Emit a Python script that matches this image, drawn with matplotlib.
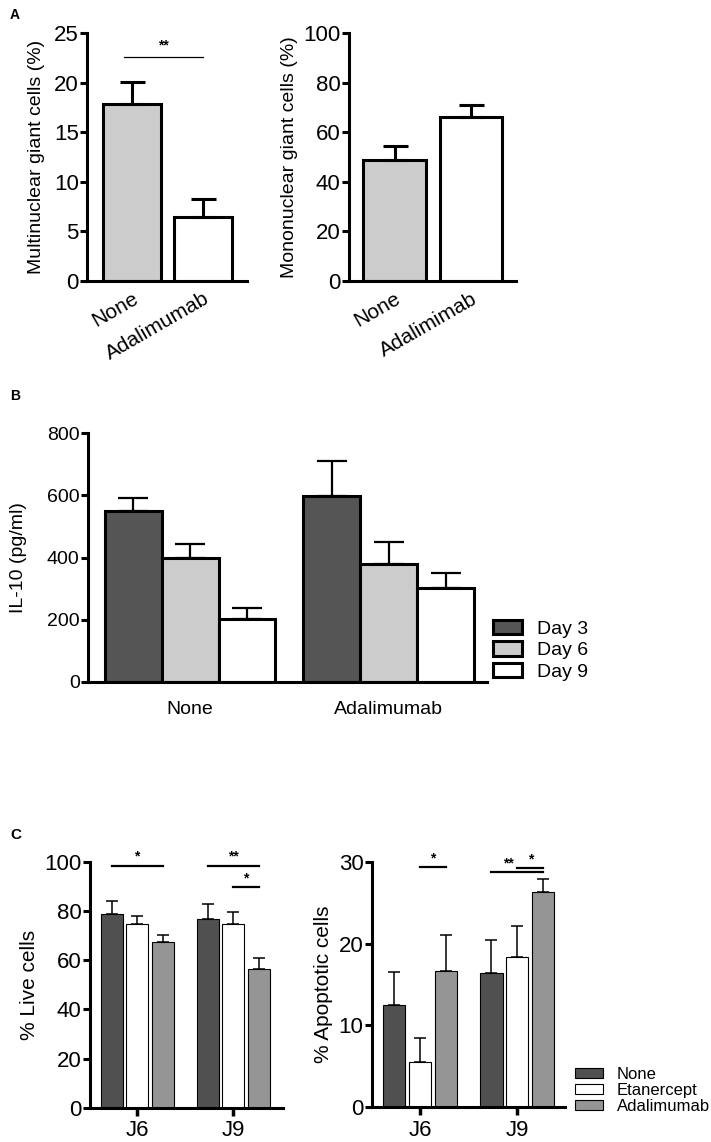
import numpy as np
import matplotlib
matplotlib.use("Agg")
import matplotlib.pyplot as plt

plt.rcParams['font.family'] = ['Liberation Sans', 'DejaVu Sans']

# ---- data ----
# panel A
a_groups = ['None', 'Adalimumab']
a_groups_right = ['None', 'Adalimimab']
multi_vals = [17.8, 6.5]
multi_err = [2.3, 1.75]
mono_vals = [48.8, 66.1]
mono_err = [5.6, 4.9]
a_colors = ['#cccccc', 'white']

# panel B
b_groups = ['None', 'Adalimumab']
b_days = ['Day 3', 'Day 6', 'Day 9']
il10_day3 = [550, 598]
il10_day3_err = [40, 113]
il10_day6 = [399, 380]
il10_day6_err = [44, 69]
il10_day9 = [201, 303]
il10_day9_err = [37, 48]
b_colors = ['#555555', '#cccccc', 'white']

# panel C
c_groups = ['J6', 'J9']
c_treat = ['None', 'Etanercept', 'Adalimumab']
live_none = [78.6, 76.7]
live_none_err = [5.5, 6.2]
live_etan = [74.8, 74.9]
live_etan_err = [3.0, 4.5]
live_adal = [67.4, 56.5]
live_adal_err = [2.9, 4.3]
apo_none = [12.5, 16.4]
apo_none_err = [4.0, 4.0]
apo_etan = [5.5, 18.3]
apo_etan_err = [3.0, 3.9]
apo_adal = [16.7, 26.3]
apo_adal_err = [4.4, 1.6]
c_colors = ['#505050', 'white', '#959595']

W, H = 711, 1142
fig = plt.figure(figsize=(W / 100, H / 100), dpi=100)


def rect(left, right, top, bottom):
    # pixel box -> figure fraction
    return [left / W, 1 - bottom / H, (right - left) / W, (bottom - top) / H]


def style_axes(ax, lw, ticksize):
    ax.spines['top'].set_visible(False)
    ax.spines['right'].set_visible(False)
    ax.spines['left'].set_linewidth(lw)
    ax.spines['bottom'].set_linewidth(lw)
    ax.tick_params(axis='y', direction='out', length=5, width=lw, labelsize=ticksize, pad=1)
    ax.tick_params(axis='x', length=0, labelsize=ticksize)


def up_err(ax, x, y, e, lw, cap):
    ax.errorbar(x, y, yerr=[np.zeros(len(e)), e], fmt='none', ecolor='black',
                elinewidth=lw, capsize=cap, capthick=lw, zorder=3)


# ---- panel A left ----
ax1 = fig.add_axes(rect(87, 247, 33, 281))
xa = np.arange(len(a_groups))
ax1.bar(xa, multi_vals, width=0.83, color=a_colors, edgecolor='black', linewidth=2.2)
up_err(ax1, xa, multi_vals, multi_err, 2.2, 9)
ax1.set_xlim(-0.634, 1.62)
ax1.set_ylim(0, 25)
ax1.set_yticks([0, 5, 10, 15, 20, 25])
style_axes(ax1, 2.2, 16)
ax1.set_xticks(xa)
ax1.set_xticklabels(a_groups, rotation=30, ha='right', rotation_mode='anchor', fontsize=15)
ax1.tick_params(axis='x', pad=6)
ax1.set_ylabel('Multinuclear giant cells (%)', fontsize=14, labelpad=6)
ax1.plot([-0.11, 1.0], [22.6, 22.6], color='black', lw=0.9)
ax1.text(0.44, 23.0, '**', ha='center', va='bottom', fontsize=10, fontweight='bold')

# ---- panel A right ----
ax2 = fig.add_axes(rect(349, 516, 33, 281))
ax2.bar(xa, mono_vals, width=0.82, color=a_colors, edgecolor='black', linewidth=2.2)
up_err(ax2, xa, mono_vals, mono_err, 2.2, 9)
ax2.set_xlim(-0.595, 1.588)
ax2.set_ylim(0, 100)
ax2.set_yticks([0, 20, 40, 60, 80, 100])
style_axes(ax2, 2.2, 16)
ax2.set_xticks(xa)
ax2.set_xticklabels(a_groups_right, rotation=30, ha='right', rotation_mode='anchor', fontsize=15)
ax2.tick_params(axis='x', pad=6)
ax2.set_ylabel('Mononuclear giant cells (%)', fontsize=14, labelpad=4)

# ---- panel B ----
ax3 = fig.add_axes(rect(88, 487, 433, 682))
xb = np.arange(len(b_groups))
bw = 0.287
b_series = [(il10_day3, il10_day3_err), (il10_day6, il10_day6_err), (il10_day9, il10_day9_err)]
for i, (vals, errs) in enumerate(b_series):
    pos = xb + (i - 1) * bw
    ax3.bar(pos, vals, width=bw, color=b_colors[i], edgecolor='black', linewidth=2.2,
            label=b_days[i])
    up_err(ax3, pos, vals, errs, 1.6, 11)
ax3.set_xlim(-0.514, 1.496)
ax3.set_ylim(0, 800)
ax3.set_yticks([0, 200, 400, 600, 800])
style_axes(ax3, 2.2, 14)
ax3.set_xticks(xb)
ax3.set_xticklabels(b_groups, fontsize=14)
ax3.tick_params(axis='x', pad=14)
ax3.set_ylabel('IL-10 (pg/ml)', fontsize=14, labelpad=14)
ax3.legend(loc='upper left', bbox_to_anchor=(493 / W, 1 - 620 / H),
           bbox_transform=fig.transFigure, frameon=False, fontsize=14,
           handlelength=1.5, handleheight=0.75, handletextpad=0.75,
           labelspacing=0.18, borderpad=0, borderaxespad=0)

# ---- panel C ----
cw = 0.229
cstep = 0.266


def panel_c(ax, series, ylim, yticks, ylabel):
    xc = np.arange(len(c_groups))
    for i, (vals, errs) in enumerate(series):
        pos = xc + (i - 1) * cstep
        ax.bar(pos, vals, width=cw, color=c_colors[i], edgecolor='black', linewidth=0.8,
               label=c_treat[i])
        up_err(ax, pos, vals, errs, 1.1, 4)
    ax.set_ylim(*ylim)
    ax.set_yticks(yticks)
    style_axes(ax, 2.2, 16)
    ax.set_xticks(xc)
    ax.set_xticklabels(c_groups)
    ax.tick_params(axis='x', direction='out', length=6, width=2.5, pad=3)
    ax.set_ylabel(ylabel, fontsize=15, labelpad=4)


def sig(ax, g, i1, i2, y, lw=1.6):
    x1 = g + (i1 - 1) * cstep
    x2 = g + (i2 - 1) * cstep
    ax.plot([x1, x2], [y, y], color='black', lw=lw)
    return x1, x2


ax4 = fig.add_axes(rect(90, 283, 861.7, 1108))
panel_c(ax4, [(live_none, live_none_err), (live_etan, live_etan_err), (live_adal, live_adal_err)],
        (0, 100), [0, 20, 40, 60, 80, 100], '% Live cells')
ax4.set_xlim(-0.49, 1.52)
for g, i1, i2, y, lab in [(0, 0, 2, 98.4, '*'), (1, 0, 2, 98.4, '**'), (1, 1, 2, 89.6, '*')]:
    x1, x2 = sig(ax4, g, i1, i2, y)
    ax4.text((x1 + x2) / 2, y + 0.8, lab, ha='center', va='bottom', fontsize=10, fontweight='bold')

ax5 = fig.add_axes(rect(371.7, 565, 861.7, 1107.3))
panel_c(ax5, [(apo_none, apo_none_err), (apo_etan, apo_etan_err), (apo_adal, apo_adal_err)],
        (0, 30), [0, 10, 20, 30], '% Apoptotic cells')
ax5.set_xlim(-0.496, 1.49)
x1, x2 = sig(ax5, 0, 1, 2, 29.3)
ax5.text((x1 + x2) / 2, 29.5, '*', ha='center', va='bottom', fontsize=10, fontweight='bold')
x1, x2 = sig(ax5, 1, 0, 2, 28.7)
ax5.text(x1 + 0.17, 28.9, '**', ha='center', va='bottom', fontsize=10, fontweight='bold')
x1, x2 = sig(ax5, 1, 1, 2, 29.2)
ax5.text((x1 + x2) / 2, 29.4, '*', ha='center', va='bottom', fontsize=10, fontweight='bold')
ax5.legend(loc='upper left', bbox_to_anchor=(575 / W, 1 - 1067 / H),
           bbox_transform=fig.transFigure, frameon=False, fontsize=12,
           handlelength=1.65, handleheight=0.6, handletextpad=0.85,
           labelspacing=0.05, borderpad=0, borderaxespad=0)

# panel letters
fig.text(10 / W, 1 - 15 / H, 'A', fontsize=10, fontweight='bold', va='center')
fig.text(10 / W, 1 - 396 / H, 'B', fontsize=10, fontweight='bold', va='center')
fig.text(10 / W, 1 - 835 / H, 'C', fontsize=11, fontweight='bold', va='center')

fig.savefig('out.png', dpi=100)
